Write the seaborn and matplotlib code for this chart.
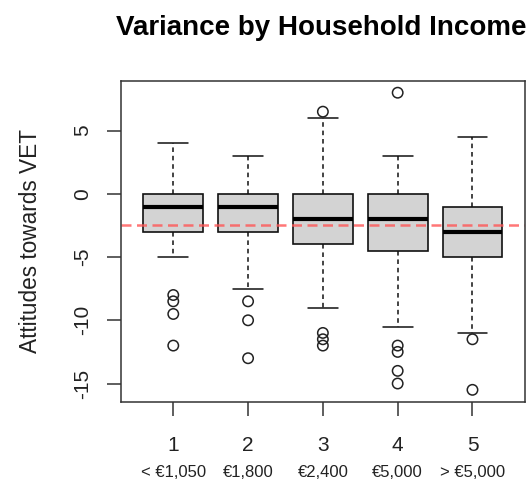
import pandas as pd
import seaborn as sns
import matplotlib.pyplot as plt

# 收入组与标签
groups = ['1', '2', '3', '4', '5']
income_labels = ['< €1,050', '€1,800', '€2,400', '€5,000', '> €5,000']

# 五数概括: 下须, Q1, 中位数, Q3, 上须
whisker_low = [-5, -7.5, -9, -10.5, -11]
q1 = [-3, -3, -4, -4.5, -5]
median = [-1, -1, -2, -2, -3]
q3 = [0, 0, 0, 0, -1]
whisker_high = [4, 3, 6, 3, 4.5]

# 离群值
outliers = {
    '1': [-8, -8.5, -9.5, -12],
    '2': [-8.5, -10, -13],
    '3': [6.5, -11, -11.5, -12],
    '4': [8, -12, -12.5, -14, -15],
    '5': [-11.5, -15.5],
}

overall_mean = -2.45

sns.set_style('ticks')
plt.rcParams['font.family'] = ['Liberation Sans', 'DejaVu Sans']

# 每组五个值, 百分位数正好落在箱线图统计量上
rows = []
for i, g in enumerate(groups):
    for v in [whisker_low[i], q1[i], median[i], q3[i], whisker_high[i]]:
        rows.append({'group': g, 'score': v})
box_data = pd.DataFrame(rows)

out_rows = [{'group': g, 'score': v} for g in groups for v in outliers[g]]
out_data = pd.DataFrame(out_rows)

fig = plt.figure(figsize=(5.28, 4.84), dpi=100)
ax = fig.add_axes([0.229, 0.170, 0.765, 0.663])

sns.boxplot(data=box_data, x='group', y='score', order=groups, whis=(0, 100),
            color='#D3D3D3', saturation=1, linecolor='#111111', linewidth=1.2,
            width=0.8, ax=ax,
            medianprops=dict(color='black', linewidth=3),
            whiskerprops=dict(linestyle=(0, (3, 2.5)), linewidth=1.1),
            capprops=dict(linewidth=1.1))

sns.stripplot(data=out_data, x='group', y='score', order=groups, jitter=False,
              marker='o', size=7.5, facecolor='none', edgecolor='#222222',
              linewidth=1.1, ax=ax)
# stripplot 的点需要空心
for coll in ax.collections:
    coll.set_facecolor('none')
    coll.set_edgecolor('#222222')

ax.axhline(overall_mean, color='#FF5555', alpha=0.8, linewidth=1.8,
           dashes=(4, 2.2))

ax.set_xlim(-0.7, 4.7)
ax.set_ylim(-16.44, 8.94)
ax.set_yticks([-15, -10, -5, 0, 5])
ax.set_yticklabels(['-15', '-10', '-5', '0', '5'], rotation=90, va='center')
ax.set_xticks(range(5))
ax.set_xticklabels(groups)
ax.tick_params(axis='both', length=10, width=1.1, color='#333333',
               labelsize=15, labelcolor='#222222')
ax.tick_params(axis='y', pad=11)
ax.tick_params(axis='x', pad=15)
for s in ax.spines.values():
    s.set_visible(True)
    s.set_color('#333333')
    s.set_linewidth(1.1)

ax.set_xlabel('')
ax.set_ylabel('Attitudes towards VET', fontsize=16.3, color='#222222', labelpad=22)

# 第二行收入标签
for i, lab in enumerate(income_labels):
    ax.text(i, -0.222, lab, transform=ax.get_xaxis_transform(),
            ha='center', va='center', fontsize=12, color='#222222')

fig.text(321 / 528, 1 - 35 / 484, 'Variance by Household Income',
         ha='center', va='baseline', fontsize=20, fontweight='bold', color='black')

fig.savefig('out.png', dpi=100)
